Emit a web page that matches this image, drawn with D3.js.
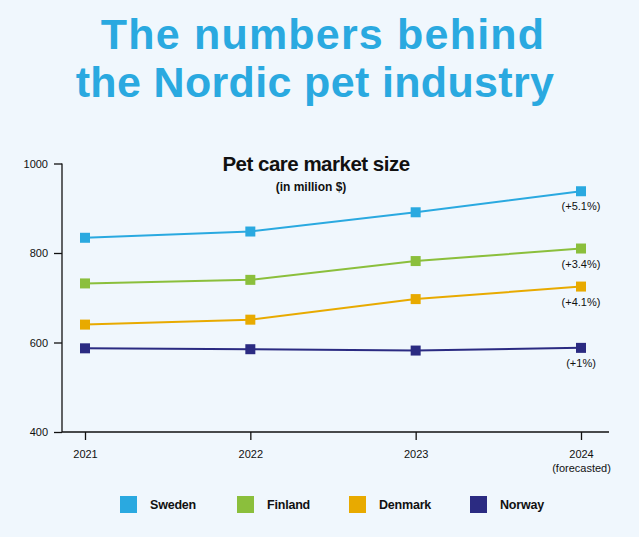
<!DOCTYPE html>
<html><head><meta charset="utf-8">
<script src="https://cdn.jsdelivr.net/npm/d3@7"></script>
<style>
html,body{margin:0;padding:0;background:#f0f7fd;}
svg{display:block;font-family:"Liberation Sans",Arial,sans-serif;}
</style></head>
<body>
<svg id="c" width="639" height="537"></svg>
<script>
const years = ["2021","2022","2023","2024"];
const yearSub = ["","","","(forecasted)"];
const seriesNames = ["Sweden","Finland","Denmark","Norway"];
const seriesColors = ["#2aa9e0","#8bbf3c","#e8aa00","#2b2b82"];
const sweden  = [834, 848, 891, 938];
const finland = [732, 740, 782, 810];
const denmark = [640, 651, 697, 725];
const norway  = [587, 585, 582, 588];
const growthLabels = ["(+5.1%)","(+3.4%)","(+4.1%)","(+1%)"];
const yTicks = [400, 600, 800, 1000];

const series = [sweden, finland, denmark, norway].map((v,i)=>({name:seriesNames[i], color:seriesColors[i], values:v, growth:growthLabels[i]}));

const svg = d3.select("#c");
svg.append("rect").attr("width",639).attr("height",537).attr("fill","#f0f7fd");

// Title
svg.append("text").attr("fill","#2aa9e0").attr("font-weight","bold")
  .attr("font-size",43).attr("text-anchor","middle").attr("letter-spacing",1.2)
  .attr("x",323).attr("y",48.5).text("The numbers behind");
svg.append("text").attr("fill","#2aa9e0").attr("font-weight","bold")
  .attr("font-size",43).attr("text-anchor","middle").attr("letter-spacing",0.35)
  .attr("x",315).attr("y",97).text("the Nordic pet industry");

svg.append("text").attr("x",316).attr("y",171).attr("text-anchor","middle")
  .attr("font-weight","bold").attr("font-size",20.5).attr("letter-spacing",-0.5).attr("fill","#111").text("Pet care market size");
svg.append("text").attr("x",311).attr("y",191).attr("text-anchor","middle")
  .attr("font-weight","bold").attr("font-size",12).attr("fill","#111").text("(in million $)");

const x = d3.scalePoint().domain(years).range([85, 581]);
const y = d3.scaleLinear().domain([400, 1000]).range([432, 163.5]);

// axes
const yAxis = svg.append("g").attr("transform","translate(62,0)")
  .call(d3.axisLeft(y).tickValues(yTicks).tickSize(8).tickPadding(6).tickFormat(d3.format("d")));
yAxis.select(".domain").attr("d","M0,163.5V432").attr("stroke","#111").attr("stroke-width",1.3);
yAxis.selectAll(".tick line").attr("stroke","#111").attr("stroke-width",1.3);
yAxis.selectAll(".tick text").attr("font-size",11).attr("fill","#111").attr("font-family","Liberation Sans, Arial, sans-serif");

const xAxis = svg.append("g").attr("transform","translate(0,432)")
  .call(d3.axisBottom(x).tickSize(8).tickPadding(8));
xAxis.select(".domain").attr("d","M62,0H609").attr("stroke","#111").attr("stroke-width",1.3);
xAxis.selectAll(".tick line").attr("stroke","#111").attr("stroke-width",1.3);
xAxis.selectAll(".tick text").attr("font-size",11).attr("fill","#111").attr("font-family","Liberation Sans, Arial, sans-serif").attr("dy","0.9em");
xAxis.selectAll(".tick").each(function(d,i){
  if(yearSub[i]) d3.select(this).append("text").attr("y",40).attr("text-anchor","middle")
    .attr("font-size",11).attr("fill","#111").attr("font-family","Liberation Sans, Arial, sans-serif").text(yearSub[i]);
});

// lines
const line = d3.line().x((d,i)=>x(years[i])).y(d=>y(d));
const g = svg.append("g");
series.forEach(s=>{
  g.append("path").attr("d",line(s.values)).attr("fill","none").attr("stroke",s.color).attr("stroke-width",2);
  g.selectAll(null).data(s.values).enter().append("rect")
    .attr("x",(d,i)=>x(years[i])-5).attr("y",d=>y(d)-5).attr("width",10).attr("height",10)
    .attr("fill",s.color);
  g.append("text").attr("x",x(years[3])).attr("y",y(s.values[3])+19).attr("text-anchor","middle")
    .attr("font-size",11).attr("fill","#111").text(s.growth);
});

// legend
const legX = [120, 237, 349, 470];
const leg = svg.append("g");
series.forEach((s,i)=>{
  leg.append("rect").attr("x",legX[i]).attr("y",496).attr("width",17).attr("height",17).attr("fill",s.color);
  leg.append("text").attr("x",legX[i]+30).attr("y",509).attr("font-weight","bold").attr("font-size",12.5)
    .attr("letter-spacing",-0.2).attr("fill","#111").text(s.name);
});
</script>
</body></html>
